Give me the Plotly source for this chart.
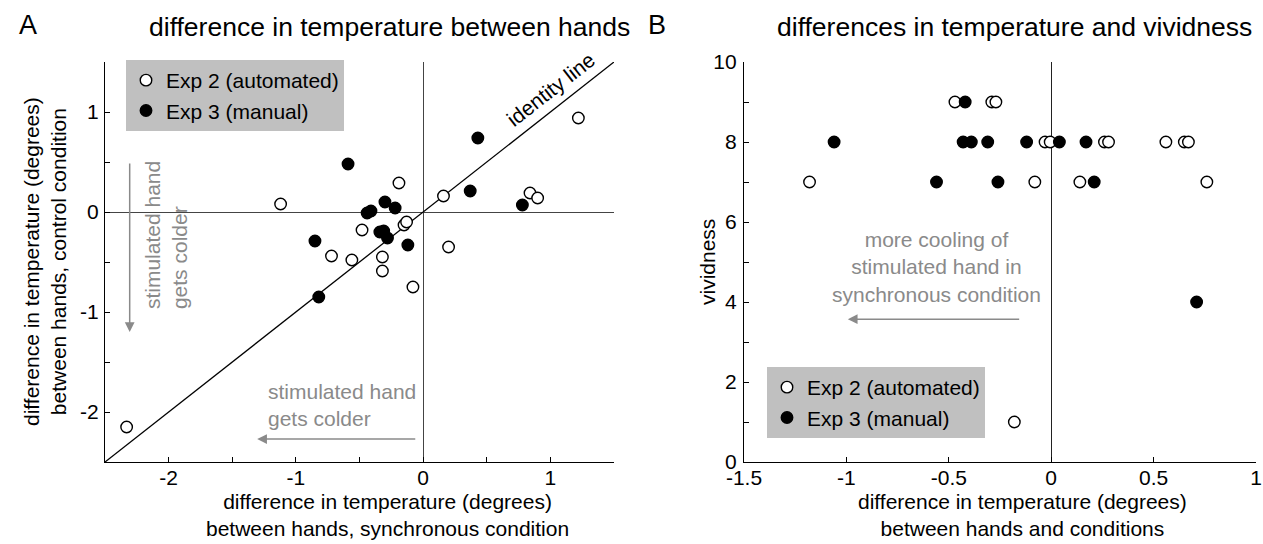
import plotly.graph_objects as go

W, H = 1263, 544

# ---------------- data ----------------
# Panel A: difference in temperature between hands (synchronous vs control)
a_exp2_x = [-2.33, -1.12, -0.19, 0.16, 0.84, 0.90, 1.22, -0.48, -0.15, -0.13, -0.72, -0.56, -0.32, -0.32, -0.08, 0.20]
a_exp2_y = [-2.15, 0.08, 0.29, 0.16, 0.19, 0.14, 0.94, -0.18, -0.13, -0.10, -0.44, -0.48, -0.45, -0.59, -0.75, -0.35]
a_exp3_x = [-0.59, 0.43, 0.37, 0.78, -0.30, -0.22, -0.44, -0.41, -0.34, -0.31, -0.28, -0.85, -0.12, -0.82]
a_exp3_y = [0.48, 0.74, 0.21, 0.07, 0.10, 0.04, -0.01, 0.01, -0.20, -0.19, -0.26, -0.29, -0.33, -0.85]

# Panel B: temperature difference vs vividness
b_exp2_x = [-0.47, -0.29, -0.27, -0.03, -0.005, 0.26, 0.28, 0.56, 0.65, 0.67, -1.18, -0.08, 0.14, 0.76, -0.18]
b_exp2_v = [9, 9, 9, 8, 8, 8, 8, 8, 8, 8, 7, 7, 7, 7, 1]
b_exp3_x = [-0.42, -1.06, -0.43, -0.39, -0.31, -0.12, 0.04, 0.17, -0.56, -0.26, 0.21, 0.71]
b_exp3_v = [9, 8, 8, 8, 8, 8, 8, 8, 7, 7, 7, 4]

a_range = [-2.5, 1.5]
b_xrange = [-1.5, 1.0]
b_yrange = [0, 10]

a_ticks = [-2.5, -2, -1.5, -1, -0.5, 0, 0.5, 1, 1.5]
a_ticktext = ["", "-2", "", "-1", "", "0", "", "1", ""]
b_xticks = [-1.5, -1, -0.5, 0, 0.5, 1]
b_xticktext = ["-1.5", "-1", "-0.5", "0", "0.5", "1"]
b_yticks = list(range(0, 11))
b_yticktext = [str(v) if v % 2 == 0 else "" for v in b_yticks]

FONT = "Liberation Sans, Arial, sans-serif"
GRAY = "#8a8a8a"

fig = go.Figure()

open_marker = dict(symbol="circle", size=11.5, color="white", line=dict(color="black", width=1.4))
fill_marker = dict(symbol="circle", size=11.5, color="black", line=dict(color="black", width=1.4))

# identity line (from axis range)
fig.add_trace(go.Scatter(x=a_range, y=a_range, mode="lines", line=dict(color="black", width=1.3),
                         showlegend=False, hoverinfo="skip", xaxis="x", yaxis="y"))

fig.add_trace(go.Scatter(x=a_exp2_x, y=a_exp2_y, mode="markers", marker=open_marker,
                         name="Exp 2 (automated)", legend="legend", xaxis="x", yaxis="y"))
fig.add_trace(go.Scatter(x=a_exp3_x, y=a_exp3_y, mode="markers", marker=fill_marker,
                         name="Exp 3 (manual)", legend="legend", xaxis="x", yaxis="y"))

fig.add_trace(go.Scatter(x=b_exp2_x, y=b_exp2_v, mode="markers", marker=open_marker,
                         name="Exp 2 (automated)", legend="legend2", xaxis="x2", yaxis="y2"))
fig.add_trace(go.Scatter(x=b_exp3_x, y=b_exp3_v, mode="markers", marker=fill_marker,
                         name="Exp 3 (manual)", legend="legend2", xaxis="x2", yaxis="y2"))

ydom = [1 - 462 / H, 1 - 62 / H]
common_axis = dict(showline=True, linecolor="black", linewidth=1.2, ticks="inside", ticklen=5,
                   tickcolor="black", tickwidth=1, showgrid=False, automargin=False,
                   tickfont=dict(family=FONT, size=21, color="black"))

fig.update_layout(
    width=W, height=H,
    margin=dict(l=0, r=0, t=0, b=0, autoexpand=False),
    paper_bgcolor="white", plot_bgcolor="white",
    font=dict(family=FONT, size=21, color="black"),
    xaxis=dict(domain=[105 / W, 614 / W], range=a_range, tickmode="array", tickvals=a_ticks,
               ticktext=a_ticktext, zeroline=True, zerolinecolor="#444", zerolinewidth=1.3,
               anchor="y", ticklabelstandoff=-3, **common_axis),
    yaxis=dict(domain=ydom, range=a_range, tickmode="array", tickvals=a_ticks,
               ticktext=a_ticktext, zeroline=True, zerolinecolor="#444", zerolinewidth=1.3,
               anchor="x", ticklabelstandoff=1, **common_axis),
    xaxis2=dict(domain=[744 / W, 1256 / W], range=b_xrange, tickmode="array", tickvals=b_xticks,
                ticktext=b_xticktext, zeroline=True, zerolinecolor="#222", zerolinewidth=1.3,
                anchor="y2", ticklabelstandoff=-3, **common_axis),
    yaxis2=dict(domain=ydom, range=b_yrange, tickmode="array", tickvals=b_yticks,
                ticktext=b_yticktext, zeroline=False, anchor="x2", ticklabelstandoff=2,
                **common_axis),
    legend=dict(x=126 / W, y=1 - 60 / H, xanchor="left", yanchor="top", bgcolor="#c0c0c0",
                borderwidth=0, font=dict(family=FONT, size=21, color="black"), itemsizing="trace",
                tracegroupgap=0),
    legend2=dict(x=767 / W, y=1 - 367 / H, xanchor="left", yanchor="top", bgcolor="#c0c0c0",
                 borderwidth=0, font=dict(family=FONT, size=21, color="black"), itemsizing="trace",
                 tracegroupgap=0),
    showlegend=True,
)

ann = []


def ptext(text, px, py, size=21, color="black", angle=0, xanchor="center", align="center"):
    ann.append(dict(text=text, x=px / W, y=1 - py / H, xref="paper", yref="paper", showarrow=False,
                    font=dict(family=FONT, size=size, color=color), textangle=angle,
                    xanchor=xanchor, yanchor="middle", align=align))


# panel letters and titles
ptext("A", 28, 25, size=27)
ptext("B", 657, 25, size=27)
ptext("difference in temperature between hands", 389, 27, size=26.5)
ptext("differences in temperature and vividness", 1014, 27, size=26.5)

# axis titles
ptext("difference in temperature (degrees)<br>between hands, synchronous condition", 387, 515)
ptext("difference in temperature (degrees)<br>between hands and conditions", 1022, 515)
ptext("difference in temperature (degrees)<br>between hands, control condition", 45, 262, angle=-90)
ptext("vividness", 707, 262, angle=-90)

# panel A in-plot annotations
ann.append(dict(text="identity line", x=1.0, y=1.23, xref="x", yref="y", showarrow=False,
                textangle=-38, font=dict(family=FONT, size=21, color="black")))
ann.append(dict(text="stimulated hand<br>gets colder", x=-2.02, y=-0.23, xref="x", yref="y",
                showarrow=False, textangle=-90, align="left",
                font=dict(family=FONT, size=21, color=GRAY)))
ann.append(dict(text="", x=-2.306, y=-1.20, ax=-2.306, ay=0.50, xref="x", yref="y",
                axref="x", ayref="y", showarrow=True, arrowhead=2, arrowsize=1.3, arrowwidth=1.5,
                arrowcolor=GRAY, standoff=0, startstandoff=0))
ann.append(dict(text="stimulated hand<br>gets colder", x=-1.234, y=-1.93, xref="x", yref="y",
                showarrow=False, xanchor="left", align="left",
                font=dict(family=FONT, size=21, color=GRAY)))
ann.append(dict(text="", x=-1.304, y=-2.27, ax=-0.05, ay=-2.27, xref="x", yref="y",
                axref="x", ayref="y", showarrow=True, arrowhead=2, arrowsize=1.3, arrowwidth=1.5,
                arrowcolor=GRAY, standoff=0, startstandoff=0))

# panel B in-plot annotations
ann.append(dict(text="more cooling of<br>stimulated hand in<br>synchronous condition", x=-0.559, y=4.88,
                xref="x2", yref="y2", showarrow=False, align="center",
                font=dict(family=FONT, size=21, color=GRAY)))
ann.append(dict(text="", x=-0.993, y=3.57, ax=-0.149, ay=3.57, xref="x2", yref="y2",
                axref="x2", ayref="y2", showarrow=True, arrowhead=2, arrowsize=1.3, arrowwidth=1.5,
                arrowcolor=GRAY, standoff=0, startstandoff=0))

fig.update_layout(annotations=ann)

fig.write_html("out.html", config={"displayModeBar": False},
               post_script="document.body.style.margin='0';document.body.style.overflow='hidden';")
